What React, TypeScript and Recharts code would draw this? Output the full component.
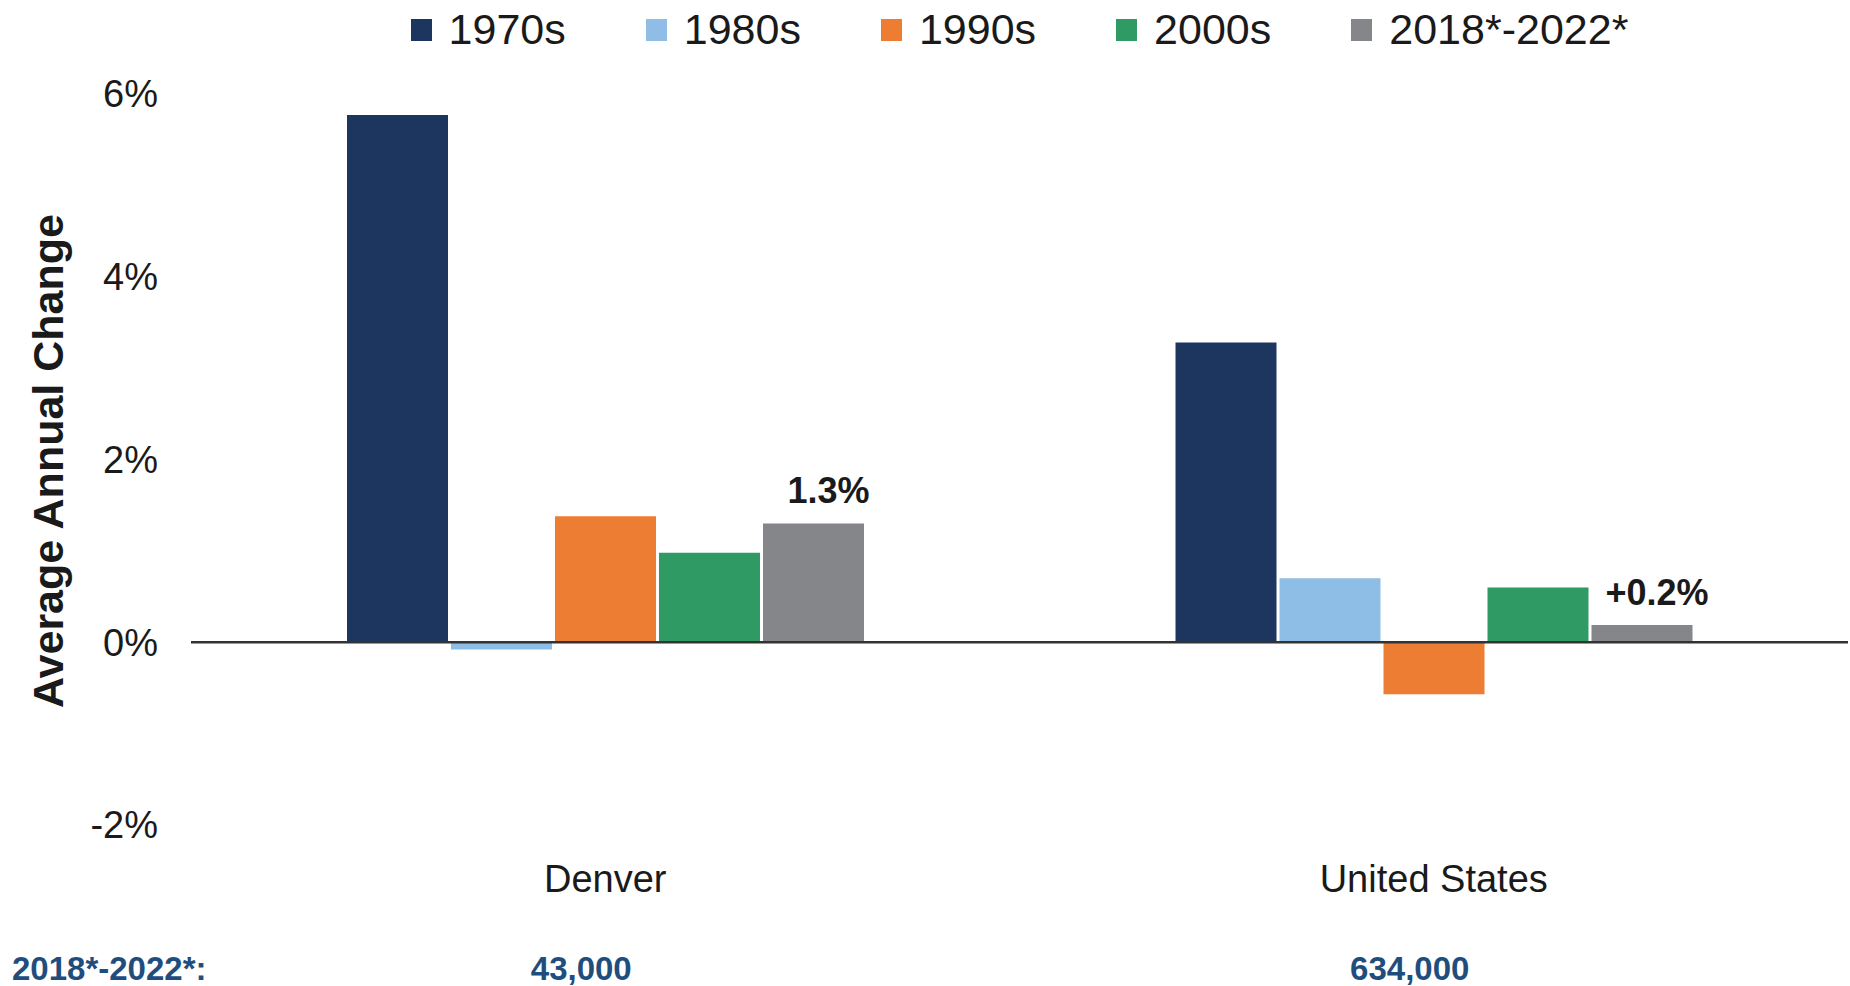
import { Bar, BarChart, LabelList, Legend, ReferenceLine, XAxis, YAxis } from "recharts";

const categories = ["Denver", "United States"];
const seriesNames = ["1970s", "1980s", "1990s", "2000s", "2018*-2022*"];
const seriesColors = ["#1D3660", "#8EBDE5", "#EC7D32", "#309A65", "#858689"];

const v1970s = [5.77, 3.28];
const v1980s = [-0.08, 0.7];
const v1990s = [1.38, -0.57];
const v2000s = [0.98, 0.6];
const vRecent = [1.3, 0.19];

const recentLabels = ["1.3%", "+0.2%"];
const recentTotals = ["43,000", "634,000"];
const yTicks = [-2, 0, 2, 4, 6];

const seriesKeys = ["s1970", "s1980", "s1990", "s2000", "sRecent"];
const seriesValues = [v1970s, v1980s, v1990s, v2000s, vRecent];

const data = categories.map((name, i) => {
  const row: Record<string, string | number> = { name };
  seriesKeys.forEach((k, j) => {
    row[k] = seriesValues[j][i];
  });
  return row;
});

const FONT = "'Liberation Sans', Arial, Helvetica, sans-serif";
const W = 1850;
const H = 986;

function LegendRow({ payload }: any) {
  return (
    <div style={{ display: "flex", justifyContent: "center", alignItems: "center", fontFamily: FONT }}>
      {(payload || []).map((p: any, i: number) => (
        <div key={p.value} style={{ display: "flex", alignItems: "center", marginLeft: i === 0 ? 0 : 80 }}>
          <span style={{ width: 21, height: 22, background: p.color, display: "inline-block", marginRight: 17 }} />
          <span style={{ fontSize: 43, lineHeight: "43px", color: "#1a1a1a" }}>{p.value}</span>
        </div>
      ))}
    </div>
  );
}

function TotalTick({ x, y, payload }: any) {
  const idx = categories.indexOf(payload.value);
  return (
    <text x={x - 24} y={y + 23} textAnchor="middle" fontFamily={FONT} fontWeight="bold" fontSize={33} fill="#1F4E7E">
      {recentTotals[idx]}
    </text>
  );
}

export default function App() {
  return (
    <div style={{ position: "fixed", top: 0, left: 0, width: W, height: H, background: "#fff" }}>
      <BarChart width={W} height={H} data={data} margin={{ top: 94, right: 2, left: 0, bottom: 0 }} barSize={101} barGap={3}>
        <Legend
          layout="horizontal"
          verticalAlign="middle"
          align="center"
          content={<LegendRow />}
          wrapperStyle={{ top: 8, left: 191, width: 1657, height: 44 }}
        />
        <YAxis
          width={191}
          domain={[-2, 6]}
          ticks={yTicks}
          tickFormatter={(v: number) => `${v}%`}
          axisLine={false}
          tickLine={false}
          tickSize={0}
          tickMargin={33}
          tick={{ fontSize: 38, fill: "#1a1a1a", fontFamily: FONT }}
          label={{
            content: () => (
              <text
                x={63}
                y={461}
                transform="rotate(-90 63 461)"
                textAnchor="middle"
                fontFamily={FONT}
                fontWeight="bold"
                fontSize={43}
                fill="#1a1a1a"
              >
                Average Annual Change
              </text>
            ),
          }}
        />
        <XAxis
          dataKey="name"
          height={80}
          axisLine={false}
          tickLine={false}
          tickSize={0}
          tickMargin={40}
          tick={{ fontSize: 38, fill: "#1a1a1a", fontFamily: FONT }}
        />
        <XAxis
          xAxisId="totals"
          dataKey="name"
          height={81}
          axisLine={false}
          tickLine={false}
          tickSize={0}
          tickMargin={52}
          tick={<TotalTick />}
          label={{
            content: () => (
              <text x={12} y={980} fontFamily={FONT} fontWeight="bold" fontSize={33} fill="#1F4E7E">
                2018*-2022*:
              </text>
            ),
          }}
        />
        {seriesKeys.map((k, j) => (
          <Bar key={k} dataKey={k} name={seriesNames[j]} fill={seriesColors[j]} isAnimationActive={false}>
            {k === "sRecent" && (
              <LabelList
                dataKey={k}
                position="top"
                offset={20}
                formatter={(v: number) => recentLabels[vRecent.indexOf(v)]}
                style={{ fontSize: 36, fontWeight: "bold", fill: "#1a1a1a", fontFamily: FONT }}
                dx={15}
              />
            )}
          </Bar>
        ))}
        <ReferenceLine y={0} stroke="#333" strokeWidth={2.5} />
      </BarChart>
    </div>
  );
}
